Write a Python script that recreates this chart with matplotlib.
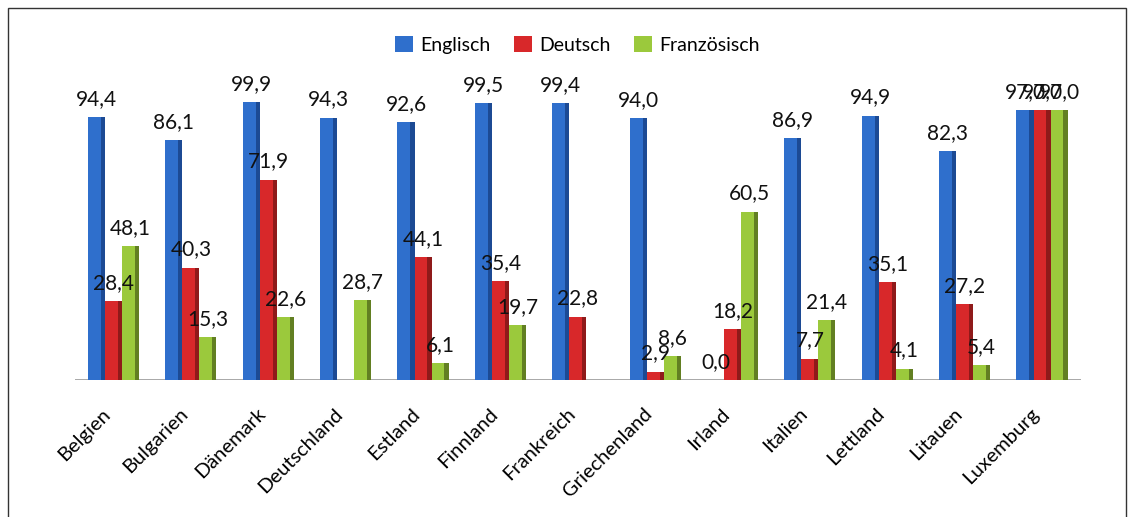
import numpy as np
import matplotlib
matplotlib.use("Agg")
import matplotlib.pyplot as plt
from matplotlib.patches import Rectangle

plt.rcParams['font.family'] = ['Lato', 'DejaVu Sans']

laender = ['Belgien', 'Bulgarien', 'Dänemark', 'Deutschland', 'Estland', 'Finnland',
           'Frankreich', 'Griechenland', 'Irland', 'Italien', 'Lettland', 'Litauen', 'Luxemburg']
englisch = [94.4, 86.1, 99.9, 94.3, 92.6, 99.5, 99.4, 94.0, 0.0, 86.9, 94.9, 82.3, 97.0]
deutsch = [28.4, 40.3, 71.9, np.nan, 44.1, 35.4, 22.8, 2.9, 18.2, 7.7, 35.1, 27.2, 97.0]
franzoesisch = [48.1, 15.3, 22.6, 28.7, 6.1, 19.7, np.nan, 8.6, 60.5, 21.4, 4.1, 5.4, 97.0]

serien = [('Englisch', englisch, '#2f6fcc', '#1c4a94'),
          ('Deutsch', deutsch, '#d8282a', '#8f1a1a'),
          ('Französisch', franzoesisch, '#9bc93c', '#627f22')]

fig = plt.figure(figsize=(11.34, 5.17), dpi=100)
ax = fig.add_axes([0.066, 0.265, 0.887, 0.619])

x = np.arange(len(laender))
w = 0.22
for i, (name, werte, farbe, seite) in enumerate(serien):
    werte = np.array(werte, dtype=float)
    pos = x + (i - 1) * w
    ax.bar(pos, werte, width=w, color=farbe, label=name, zorder=3)
    # dunklere Seitenflaeche fuer 3D-Eindruck
    ax.bar(pos + w * 0.38, werte, width=w * 0.24, color=seite, zorder=3)
    for p, v in zip(pos, werte):
        if np.isnan(v):
            continue
        ax.text(p, v + 3, f'{v:.1f}'.replace('.', ','), ha='center', va='bottom',
                fontsize=15, color='#111111', zorder=5)

# Boden
ax.axhline(0, color='#9a9a9a', lw=1.2, zorder=2)
ax.axhline(-1.5, color='#c8c8c8', lw=1.0, zorder=1)

ax.set_xlim(-0.5, 12.5)
ax.set_ylim(0, 115)
ax.set_yticks([])
ax.set_xticks(x - 0.15)
ax.set_xticklabels(laender, rotation=45, ha='right', rotation_mode='anchor', fontsize=14.5)
ax.tick_params(axis='x', length=0, pad=18)
for s in ax.spines.values():
    s.set_visible(False)

ax.legend(loc='lower center', bbox_to_anchor=(0.5, 0.965), ncol=3, frameon=False,
          fontsize=14, handlelength=0.9, handleheight=0.9, handletextpad=0.4,
          columnspacing=1.2)

fig.patches.append(Rectangle((0.007, -0.01), 0.986, 0.995, transform=fig.transFigure,
                             fill=False, edgecolor='#333333', lw=1.0))

fig.savefig('out.png', dpi=100)
